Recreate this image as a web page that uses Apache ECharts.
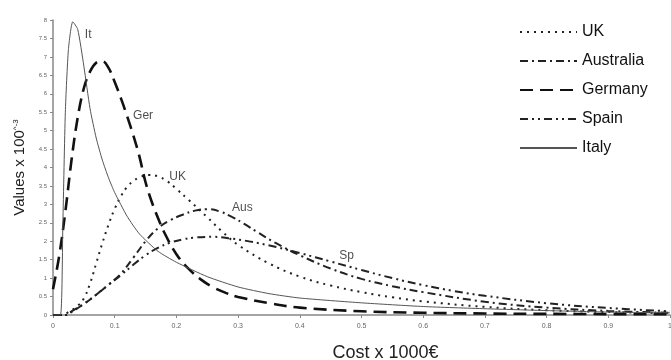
<!DOCTYPE html>
<html>
<head>
<meta charset="utf-8">
<script src="https://cdn.jsdelivr.net/npm/echarts@6/dist/echarts.min.js"></script>
<style>
  html, body { margin: 0; padding: 0; background: #fff; }
  #chart { width: 671px; height: 360px; }
</style>
</head>
<body>
<div id="chart"></div>
<script>
// [cost x 1000€, value x 100^-3]
const uk = [
  [0, 0], [0.015, 0], [0.025, 0.08], [0.04, 0.25], [0.05, 0.45], [0.06, 0.85], [0.07, 1.4],
  [0.08, 1.95], [0.09, 2.45], [0.1, 2.88], [0.11, 3.22], [0.12, 3.47], [0.13, 3.63], [0.14, 3.73],
  [0.155, 3.8], [0.17, 3.76], [0.185, 3.63], [0.2, 3.42], [0.22, 3.12], [0.25, 2.65], [0.275, 2.25],
  [0.3, 1.9], [0.35, 1.4], [0.4, 1.04], [0.45, 0.8], [0.5, 0.62], [0.55, 0.48], [0.6, 0.37],
  [0.7, 0.22], [0.8, 0.13], [0.9, 0.08], [1.0, 0.05]
]
const australia = [
  [0, 0], [0.02, 0], [0.03, 0.1], [0.05, 0.3], [0.07, 0.55], [0.09, 0.82], [0.11, 1.12],
  [0.13, 1.55], [0.15, 2.0], [0.17, 2.35], [0.19, 2.57], [0.21, 2.72], [0.23, 2.83], [0.25, 2.87],
  [0.27, 2.81], [0.29, 2.66], [0.31, 2.47], [0.33, 2.26], [0.36, 1.96], [0.4, 1.62], [0.45, 1.26],
  [0.5, 0.98], [0.55, 0.78], [0.6, 0.62], [0.7, 0.36], [0.8, 0.2], [0.9, 0.11], [1.0, 0.06]
]
const germany = [
  [0, 0.7], [0.01, 1.6], [0.02, 2.8], [0.03, 4.2], [0.04, 5.35], [0.05, 6.15], [0.06, 6.6],
  [0.07, 6.84], [0.08, 6.88], [0.09, 6.7], [0.1, 6.32], [0.11, 5.88], [0.12, 5.4], [0.13, 4.88],
  [0.14, 4.3], [0.15, 3.6], [0.16, 3.07], [0.17, 2.64], [0.18, 2.25], [0.2, 1.65], [0.22, 1.25],
  [0.24, 0.96], [0.26, 0.75], [0.28, 0.6], [0.3, 0.49], [0.35, 0.32], [0.4, 0.2], [0.5, 0.1],
  [0.6, 0.06], [0.7, 0.04], [0.8, 0.03], [1.0, 0.02]
]
const spain = [
  [0, 0], [0.02, 0], [0.03, 0.08], [0.05, 0.3], [0.07, 0.55], [0.09, 0.82], [0.11, 1.08],
  [0.13, 1.36], [0.15, 1.62], [0.17, 1.82], [0.19, 1.96], [0.21, 2.05], [0.23, 2.1], [0.26, 2.12],
  [0.29, 2.07], [0.32, 1.99], [0.36, 1.85], [0.4, 1.68], [0.45, 1.45], [0.5, 1.22], [0.55, 1.0],
  [0.6, 0.81], [0.65, 0.65], [0.7, 0.52], [0.8, 0.32], [0.9, 0.19], [1.0, 0.1]
]
const italy = [
  [0, 0], [0.012, 0], [0.016, 2.5], [0.02, 5.5], [0.025, 7.2], [0.032, 7.95], [0.04, 7.75],
  [0.05, 6.75], [0.06, 5.6], [0.07, 4.8], [0.08, 4.2], [0.09, 3.72], [0.1, 3.32], [0.12, 2.68],
  [0.14, 2.2], [0.17, 1.73], [0.2, 1.43], [0.25, 1.04], [0.3, 0.76], [0.35, 0.58], [0.4, 0.46],
  [0.5, 0.33], [0.6, 0.23], [0.7, 0.17], [0.8, 0.12], [0.9, 0.08], [1.0, 0.06]
]

// curve tags: [name, x, y]
const tags = [
  ["It", 0.057, 7.6], ["Ger", 0.146, 5.4], ["UK", 0.202, 3.75], ["Aus", 0.307, 2.9], ["Sp", 0.476, 1.6]
]

const chart = echarts.init(document.getElementById("chart"))

function line(name, data, width, type, color, smooth) {
  return {
    name,
    type: "line",
    data,
    symbol: "none",
    smooth,
    lineStyle: { color, width, type },
    itemStyle: { color },
  }
}

const series = [
  line("UK", uk, 2, [2, 5], "#222", 0.4),
  line("Australia", australia, 2, [8, 4, 2, 4], "#222", 0.4),
  line("Germany", germany, 2.6, [13, 7], "#111", 0.4),
  line("Spain", spain, 2, [8, 4, 2, 4, 2, 4], "#222", 0.4),
  line("Italy", italy, 1, "solid", "#555", 0.2),
]

// tags on the curves
series.push({
  type: "scatter",
  data: tags.map((t) => ({ value: [t[1], t[2]], name: t[0] })),
  symbolSize: 0,
  silent: true,
  label: {
    show: true,
    formatter: (p) => p.name,
    position: "inside",
    color: "#222",
    fontSize: 12,
  },
})

chart.setOption({
  animation: false,
  textStyle: { fontFamily: "Liberation Sans" },
  grid: { left: 53, right: 1, top: 20, bottom: 45, containLabel: false, outerBoundsMode: "none" },
  legend: {
    data: ["UK", "Australia", "Germany", "Spain", "Italy"],
    orient: "vertical",
    left: 514,
    top: 19,
    itemWidth: 57,
    itemHeight: 14,
    itemGap: 13,
    itemStyle: { opacity: 0 },
    textStyle: { color: "#111", fontSize: 16 },
  },
  xAxis: {
    type: "value",
    min: 0,
    max: 1,
    interval: 0.1,
    name: "Cost x 1000€",
    nameLocation: "middle",
    nameGap: 29,
    nameTextStyle: { fontSize: 18, color: "#222", padding: [0, 0, 0, 48] },
    axisLine: { lineStyle: { color: "#888", width: 1.5 } },
    axisTick: { length: 3, lineStyle: { color: "#888" } },
    axisLabel: { fontSize: 7, color: "#666", margin: 8 },
    splitLine: { show: false },
  },
  yAxis: {
    type: "value",
    min: 0,
    max: 8,
    interval: 0.5,
    name: "{a|Values x 100}{b|^-3}",
    nameLocation: "middle",
    nameRotate: 90,
    nameGap: 24,
    nameTextStyle: {
      rich: {
        a: { fontSize: 15, color: "#222" },
        b: { fontSize: 8, color: "#222", verticalAlign: "top", padding: [0, 0, 8, 0] },
      },
    },
    axisLine: { show: true, lineStyle: { color: "#888", width: 1.5 } },
    axisTick: { show: true, length: 3, lineStyle: { color: "#888" } },
    axisLabel: { fontSize: 6, color: "#666", margin: 6 },
    splitLine: { show: false },
  },
  series,
})
</script>
</body>
</html>
